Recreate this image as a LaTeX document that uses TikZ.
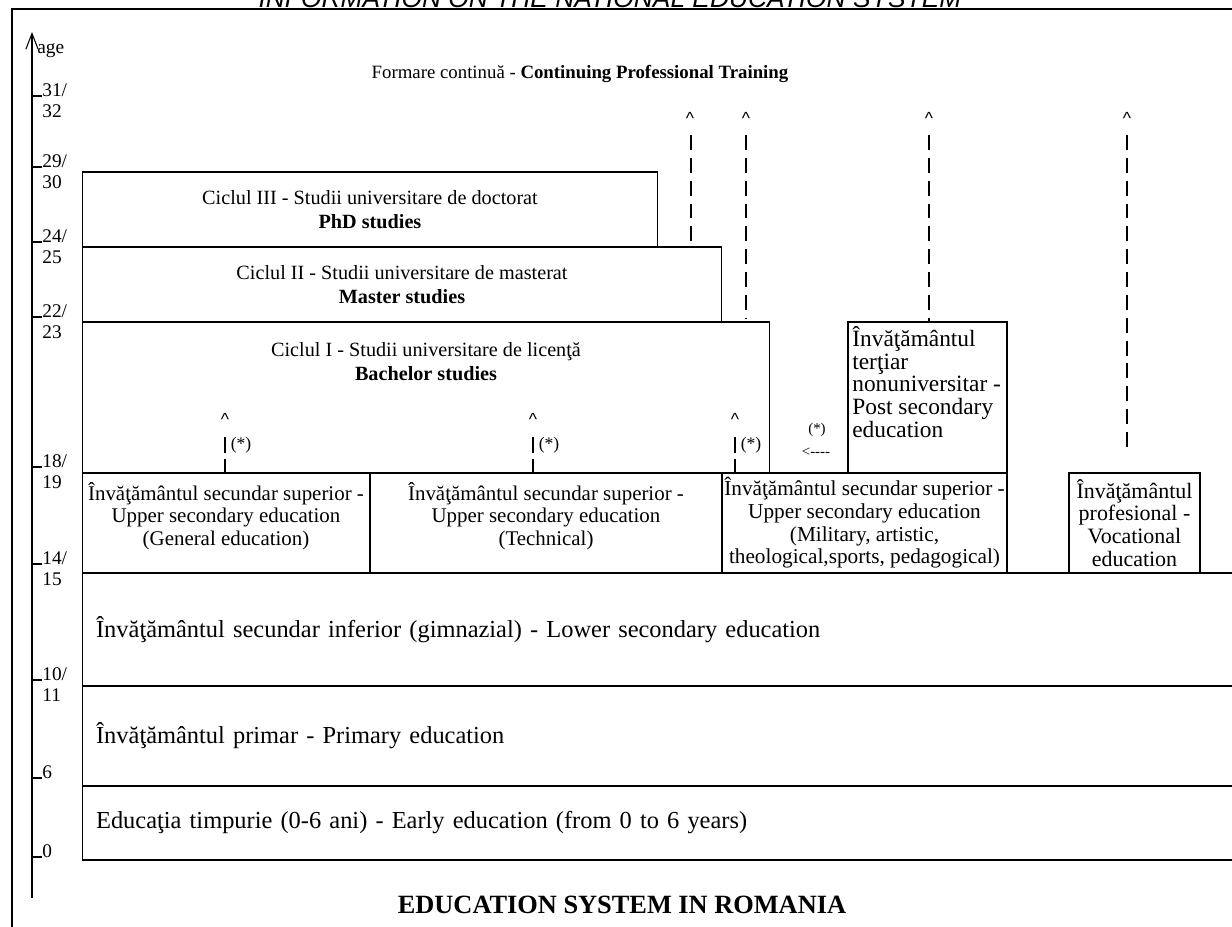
\documentclass[tikz,border=0pt]{standalone}
\usepackage{fontspec}
\setmainfont{Liberation Serif}
\newfontfamily\titlufont{Liberation Sans}
\usetikzlibrary{arrows.meta}

\begin{document}
\begin{tikzpicture}[x=0.02cm, y=-0.02cm]
	\tikzset{cutie/.style={draw=black, line width=0.6pt, inner sep=0pt, align=center, font=\fontsize{12.1}{12.9}\selectfont},
		scris/.style={inner sep=0pt, align=center, font=\fontsize{11.9}{12.9}\selectfont},
		ciclu/.style={cutie, font=\fontsize{11.5}{13.6}\selectfont},
		lata/.style={cutie, minimum width=23.16cm, inner xsep=0.28cm, text width=22.6cm, align=left, font=\fontsize{13.9}{15}\selectfont},
		linie/.style={line width=0.6pt},
		sageata/.style={line width=0.7pt, dash pattern=on 8.5pt off 4.5pt},
		scurta/.style={line width=0.7pt, dash pattern=on 9pt off 3.4pt},
		varf/.style={inner sep=0pt, font=\titlufont\fontsize{10}{10}\selectfont},
		stea/.style={inner sep=0pt, font=\fontsize{10}{10}\selectfont},
		varsta/.style={anchor=base west, inner sep=0pt, font=\fontsize{11}{11}\selectfont}};

	\useasboundingbox (0,0) rectangle (1232,927);

	% cadru
	\node[anchor=base, font=\titlufont\itshape\fontsize{15}{15}\selectfont] (titlu) at (610,7) {INFORMATION ON THE NATIONAL EDUCATION SYSTEM};
	\coordinate (cadruA) at (12,927);
	\coordinate (cadruB) at (12,9);
	\coordinate (cadruC) at (1232,9);
	\draw[line width=0.9pt] (cadruA) -- (cadruB) -- (cadruC);

	% axa varstei
	\coordinate (axaJos) at (32,898);
	\coordinate (axaSus) at (32,32);
	\draw[linie, -{Straight Barb[length=9pt, width=7pt]}] (axaJos) -- (axaSus);
	\node[varsta] (age) at (37,53) {age};

	\node[varsta] (a31) at (42, 96) {31/};
	\node[varsta] (a32) at (42,117) {32};
	\node[varsta] (a29) at (42,167) {29/};
	\node[varsta] (a30) at (42,188) {30};
	\node[varsta] (a24) at (42,242) {24/};
	\node[varsta] (a25) at (42,263) {25};
	\node[varsta] (a22) at (42,317) {22/};
	\node[varsta] (a23) at (42,338) {23};
	\node[varsta] (a18) at (42,467) {18/};
	\node[varsta] (a19) at (42,488) {19};
	\node[varsta] (a14) at (42,564) {14/};
	\node[varsta] (a15) at (42,585) {15};
	\node[varsta] (a10) at (42,680) {10/};
	\node[varsta] (a11) at (42,701) {11};
	\node[varsta] (a6)  at (42,778) {6};
	\node[varsta] (a0)  at (42,857) {0};

	\draw[linie] (a31.base west) -- ++(-10,0);
	\draw[linie] (a29.base west) -- ++(-10,0);
	\draw[linie] (a24.base west) -- ++(-10,0);
	\draw[linie] (a22.base west) -- ++(-10,0);
	\draw[linie] (a18.base west) -- ++(-10,0);
	\draw[linie] (a14.base west) -- ++(-10,0);
	\draw[linie] (a10.base west) -- ++(-10,0);
	\draw[linie] (a6.base west)  -- ++(-10,0);
	\draw[linie] (a0.base west)  -- ++(-10,0);

	\node[font=\fontsize{10.7}{12}\selectfont] (formare) at (580,74) {Formare continuă - \textbf{Continuing Professional Training}};

	% studii universitare
	\node[ciclu, minimum width=11.52cm, minimum height=1.5cm] (phd) at (370,209.5) {Ciclul III - Studii universitare de doctorat\\ \textbf{PhD studies}};
	\node[ciclu, minimum width=12.8cm,  minimum height=1.5cm] (master) at (402,284.5) {Ciclul II - Studii universitare de masterat\\ \textbf{Master studies}};
	\node[cutie, minimum width=13.76cm, minimum height=3.02cm] (licenta) at (426,397.5) {};
	\node[scris, anchor=north, font=\fontsize{11.5}{13.6}\selectfont] (licentaText) at (426,342) {Ciclul I - Studii universitare de licenţă\\ \textbf{Bachelor studies}};
	\node[cutie, minimum width=3.18cm, minimum height=3.02cm] (tertiar) at (927.5,397.5) {};
	\node[scris, anchor=north west, align=left, font=\fontsize{13.3}{12.9}\selectfont] (tertiarText) at (852,326) {Învăţământul\\ terţiar\\ nonuniversitar -\\ Post secondary\\ education};

	% secundar superior
	\node[cutie, minimum width=5.76cm, minimum height=2cm] (general) at (226,523) {};
	\node[scris] (generalText) at (226,516) {Învăţământul secundar superior -\\ Upper secondary education\\ (General education)};
	\node[cutie, minimum width=7.04cm, minimum height=2cm] (tehnic) at (546,523) {};
	\node[scris] (tehnicText) at (546,516) {Învăţământul secundar superior -\\ Upper secondary education\\ (Technical)};
	\node[cutie, minimum width=5.7cm,  minimum height=2cm] (vocatie) at (864.5,523) {Învăţământul secundar superior -\\ Upper secondary education\\ (Military, artistic,\\ theological,sports, pedagogical)};
	\node[cutie, minimum width=2.62cm, minimum height=2cm, font=\fontsize{12.5}{12.9}\selectfont] (profesional) at (1134.5,523) {Învăţământul\\ profesional -\\ Vocational\\ education};

	% invatamant obligatoriu
	\node[lata, minimum height=2.26cm] (gimnaziu) at (661,629.5) {Învăţământul secundar inferior (gimnazial) - Lower secondary education};
	\node[lata, minimum height=2cm]    (primar)   at (661,736)   {Învăţământul primar - Primary education};
	\node[lata, minimum height=1.48cm] (timpuriu) at (661,823)   {Educaţia timpurie (0-6 ani) - Early education (from 0 to 6 years)};

	% sageti catre formare continua
	\node[varf] (v1) at (690,118) {\symbol{94}};
	\node[varf] (v2) at (746,118) {\symbol{94}};
	\node[varf] (v3) at (929,118) {\symbol{94}};
	\node[varf] (v4) at (1127,118) {\symbol{94}};
	\coordinate (s1) at (691,135);
	\coordinate (s2) at (746,135);
	\coordinate (s3) at (929,135);
	\coordinate (s4) at (1127,135);
	\draw[sageata] (s1) -- (master.north -| s1);
	\draw[sageata] (s2) -- (746,318);
	\draw[sageata] (s3) -- (tertiar.north -| s3);
	\draw[sageata] (s4) -- (1127,452);

	% sageti (*)
	\node[varf] (w1) at (225,419) {\symbol{94}};
	\node[varf] (w2) at (533,419) {\symbol{94}};
	\node[varf] (w3) at (735,419) {\symbol{94}};
	\coordinate (t1) at (225,437);
	\coordinate (t2) at (533,437);
	\coordinate (t3) at (735,437);
	\draw[scurta] (t1) -- (general.north -| t1);
	\draw[scurta] (t2) -- (tehnic.north -| t2);
	\draw[scurta] (t3) -- (vocatie.north -| t3);
	\node[stea] (n1) at (241,445) {(*)};
	\node[stea] (n2) at (549,445) {(*)};
	\node[stea] (n3) at (751,445) {(*)};
	\node[stea, font=\fontsize{8.5}{8.5}\selectfont] (n4) at (817,430) {(*)};
	\node[stea, font=\fontsize{8.5}{8.5}\selectfont] (n5) at (816,452) {<{-}{-}{-}{-}};

	\node[font=\bfseries\fontsize{15}{15}\selectfont] (titluJos) at (622,905) {EDUCATION SYSTEM IN ROMANIA};
\end{tikzpicture}
\end{document}
